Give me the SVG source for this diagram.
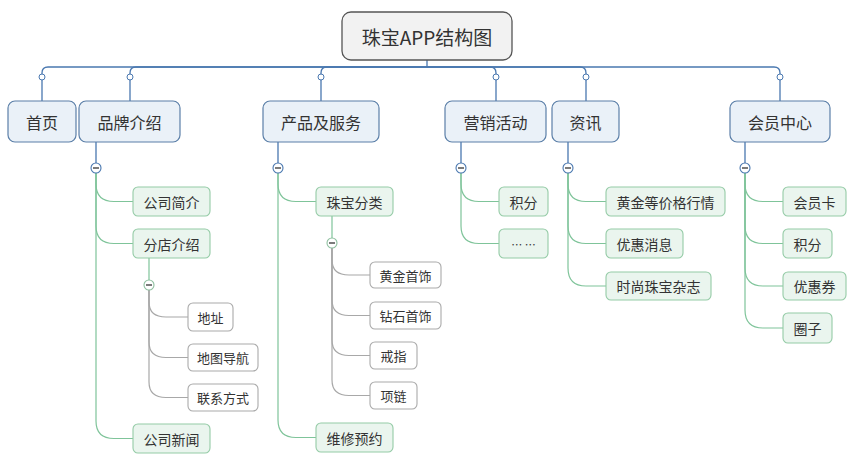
<svg xmlns="http://www.w3.org/2000/svg" width="858" height="461" viewBox="0 0 858 461">
<style>
text{font-family:"Noto Sans CJK SC","Noto Sans",sans-serif;fill:#333;text-anchor:middle;dominant-baseline:central}
.root rect{fill:#f2f2f2;stroke:#555;stroke-width:1.3}
.root text{font-size:19px}
.l1 rect{fill:#eaf1f8;stroke:#5b7fa8;stroke-width:1.2}
.l1 text{font-size:16px}
.l2 rect{fill:#eaf5ee;stroke:#94cba6;stroke-width:1.1}
.l2 text{font-size:14px}
.l3 rect{fill:#fff;stroke:#aaa;stroke-width:1.1}
.l3 text{font-size:13px}
.blue{fill:none;stroke:#4a78b0;stroke-width:1.3}
.green{fill:none;stroke:#7fc49a;stroke-width:1.2}
.gray{fill:none;stroke:#a8a8a8;stroke-width:1.2}
.dot{fill:#fff;stroke:#4a78b0;stroke-width:1}
.col{fill:#fff;stroke:#4a78b0;stroke-width:1.1}
.colg{fill:#fff;stroke:#8fc0a0;stroke-width:1.1}
.minus{stroke:#333;stroke-width:1.3}
</style>
<g id="connectors">
<path class="blue" d="M427,60 V67 H48 Q42,67 42,73 V101"/>
<path class="blue" d="M427,67 H136 Q130,67 130,73 V101"/>
<path class="blue" d="M427,67 H327 Q321,67 321,73 V101"/>
<path class="blue" d="M427,67 H490 Q496,67 496,73 V101"/>
<path class="blue" d="M427,67 H580 Q586,67 586,73 V101"/>
<path class="blue" d="M427,67 H774 Q780,67 780,73 V101"/>
<circle class="dot" cx="42" cy="77" r="3"/>
<circle class="dot" cx="130" cy="77" r="3"/>
<circle class="dot" cx="321" cy="77" r="3"/>
<circle class="dot" cx="496" cy="77" r="3"/>
<circle class="dot" cx="586" cy="77" r="3"/>
<circle class="dot" cx="780" cy="77" r="3"/>
<path class="blue" d="M96,142 V163 M278,142 V163 M461,142 V163 M568,142 V163 M745,142 V163"/>
<path class="green" d="M96,173 V184 C96,196 102,201.5 114,201.5 H133"/>
<path class="green" d="M96,173 V226 C96,238 102,243.5 114,243.5 H133"/>
<path class="green" d="M96,173 V421 C96,433 102,438.5 114,438.5 H133"/>
<path class="green" d="M149,258 V280"/>
<path class="gray" d="M149,290 V302 C149,312 155,317 166,317 H188"/>
<path class="gray" d="M149,290 V342 C149,352 155,357.5 166,357.5 H188"/>
<path class="gray" d="M149,290 V382 C149,392 155,397.5 166,397.5 H188"/>
<path class="green" d="M278,173 V184 C278,196 284,201.5 296,201.5 H316"/>
<path class="green" d="M278,173 V420 C278,432 284,437.5 296,437.5 H316"/>
<path class="green" d="M332,216 V238"/>
<path class="gray" d="M332,248 V260 C332,270 338,275 349,275 H370"/>
<path class="gray" d="M332,248 V300 C332,310 338,315.5 349,315.5 H370"/>
<path class="gray" d="M332,248 V340 C332,350 338,355.5 349,355.5 H370"/>
<path class="gray" d="M332,248 V380 C332,390 338,395.5 349,395.5 H370"/>
<path class="green" d="M461,173 V184 C461,196 467,201.5 479,201.5 H499"/>
<path class="green" d="M461,173 V226 C461,238 467,243.5 479,243.5 H499"/>
<path class="green" d="M568,173 V184 C568,196 574,201.5 586,201.5 H606"/>
<path class="green" d="M568,173 V226 C568,238 574,243.5 586,243.5 H606"/>
<path class="green" d="M568,173 V268 C568,280 574,286 586,286 H606"/>
<path class="green" d="M745,173 V184 C745,196 751,201.5 763,201.5 H783"/>
<path class="green" d="M745,173 V226 C745,238 751,243.5 763,243.5 H783"/>
<path class="green" d="M745,173 V268 C745,280 751,286 763,286 H783"/>
<path class="green" d="M745,173 V310 C745,322 751,328 763,328 H783"/>
<circle class="col" cx="96" cy="168" r="5"/><path class="minus" d="M93,168 H99"/>
<circle class="col" cx="278" cy="168" r="5"/><path class="minus" d="M275,168 H281"/>
<circle class="col" cx="461" cy="168" r="5"/><path class="minus" d="M458,168 H464"/>
<circle class="col" cx="568" cy="168" r="5"/><path class="minus" d="M565,168 H571"/>
<circle class="col" cx="745" cy="168" r="5"/><path class="minus" d="M742,168 H748"/>
<circle class="colg" cx="149" cy="285" r="5"/><path class="minus" d="M146,285 H152"/>
<circle class="colg" cx="332" cy="243" r="5"/><path class="minus" d="M329,243 H335"/>
</g>
<g id="root" class="root"><rect x="342" y="12" width="170" height="48" rx="9"/><text x="427" y="36">珠宝APP结构图</text></g>
<g id="n-home" class="l1"><rect x="8" y="101" width="68" height="41" rx="7"/><text x="42" y="121.5">首页</text></g>
<g id="n-brand" class="l1"><rect x="79" y="101" width="101" height="41" rx="7"/><text x="129.5" y="121.5">品牌介绍</text></g>
<g id="n-product" class="l1"><rect x="263" y="101" width="116" height="41" rx="7"/><text x="321" y="121.5">产品及服务</text></g>
<g id="n-market" class="l1"><rect x="445" y="101" width="101" height="41" rx="7"/><text x="495.5" y="121.5">营销活动</text></g>
<g id="n-news" class="l1"><rect x="552" y="101" width="67" height="41" rx="7"/><text x="585.5" y="121.5">资讯</text></g>
<g id="n-member" class="l1"><rect x="730" y="101" width="100" height="41" rx="7"/><text x="780" y="121.5">会员中心</text></g>
<g id="n-intro" class="l2"><rect x="133" y="187" width="77" height="29" rx="5"/><text x="171.5" y="201.5">公司简介</text></g>
<g id="n-branch" class="l2"><rect x="133" y="229" width="77" height="29" rx="5"/><text x="171.5" y="243.5">分店介绍</text></g>
<g id="n-cnews" class="l2"><rect x="133" y="424" width="77" height="29" rx="5"/><text x="171.5" y="438.5">公司新闻</text></g>
<g id="n-addr" class="l3"><rect x="188" y="303" width="45" height="28" rx="5"/><text x="210.5" y="317">地址</text></g>
<g id="n-map" class="l3"><rect x="188" y="344" width="70" height="27" rx="5"/><text x="223" y="357.5">地图导航</text></g>
<g id="n-contact" class="l3"><rect x="188" y="384" width="70" height="27" rx="5"/><text x="223" y="397.5">联系方式</text></g>
<g id="n-category" class="l2"><rect x="316" y="187" width="77" height="29" rx="5"/><text x="354.5" y="201.5">珠宝分类</text></g>
<g id="n-repair" class="l2"><rect x="316" y="423" width="77" height="29" rx="5"/><text x="354.5" y="437.5">维修预约</text></g>
<g id="n-gold" class="l3"><rect x="370" y="262" width="71" height="26" rx="5"/><text x="405.5" y="275">黄金首饰</text></g>
<g id="n-diamond" class="l3"><rect x="370" y="302" width="71" height="27" rx="5"/><text x="405.5" y="315.5">钻石首饰</text></g>
<g id="n-ring" class="l3"><rect x="370" y="342" width="47" height="27" rx="5"/><text x="393.5" y="355.5">戒指</text></g>
<g id="n-necklace" class="l3"><rect x="370" y="382" width="47" height="27" rx="5"/><text x="393.5" y="395.5">项链</text></g>
<g id="n-points" class="l2"><rect x="499" y="187" width="49" height="29" rx="5"/><text x="523.5" y="201.5">积分</text></g>
<g id="n-more" class="l2"><rect x="499" y="229" width="49" height="29" rx="5"/><text x="523.5" y="243.5" style="font-size:11px">… …</text></g>
<g id="n-price" class="l2"><rect x="606" y="187" width="119" height="29" rx="5"/><text x="665.5" y="201.5">黄金等价格行情</text></g>
<g id="n-promo" class="l2"><rect x="606" y="229" width="77" height="29" rx="5"/><text x="644.5" y="243.5">优惠消息</text></g>
<g id="n-mag" class="l2"><rect x="606" y="272" width="105" height="28" rx="5"/><text x="658.5" y="286">时尚珠宝杂志</text></g>
<g id="n-card" class="l2"><rect x="783" y="187" width="63" height="29" rx="5"/><text x="814.5" y="201.5">会员卡</text></g>
<g id="n-mpoints" class="l2"><rect x="783" y="229" width="49" height="29" rx="5"/><text x="807.5" y="243.5">积分</text></g>
<g id="n-coupon" class="l2"><rect x="783" y="272" width="63" height="28" rx="5"/><text x="814.5" y="286">优惠券</text></g>
<g id="n-circle" class="l2"><rect x="783" y="313" width="49" height="30" rx="5"/><text x="807.5" y="328">圈子</text></g>
</svg>
